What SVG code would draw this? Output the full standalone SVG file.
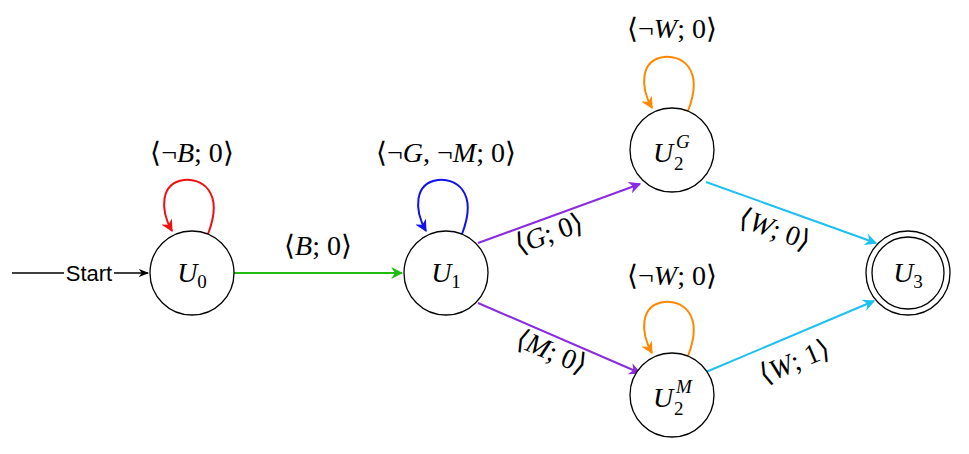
<svg xmlns="http://www.w3.org/2000/svg" width="969" height="454" viewBox="0 0 969 454">
<style>
.n{fill:#fff;stroke:#000;stroke-width:1.3}
.m{font-family:"Liberation Serif",serif;font-size:28px;fill:#000}
.sm{font-family:"Liberation Serif",serif;font-size:19px;fill:#000}
.i{font-style:italic}
.s{font-family:"Liberation Sans",sans-serif;font-size:22px}
.e{fill:none;stroke-width:2}
</style>
<defs>
<marker id="ak" viewBox="0 0 10 10" refX="9" refY="5" markerWidth="8" markerHeight="8" orient="auto"><path d="M0,1 L10,5 L0,9 L3,5z" fill="#000"/></marker>
<marker id="ag" viewBox="0 0 10 10" refX="9" refY="5" markerWidth="6" markerHeight="6" orient="auto"><path d="M0,0 L10,5 L0,10 L3,5z" fill="#22bb11"/></marker>
<marker id="ap" viewBox="0 0 10 10" refX="9" refY="5" markerWidth="6" markerHeight="6" orient="auto"><path d="M0,0 L10,5 L0,10 L3,5z" fill="#8a2be2"/></marker>
<marker id="ac" viewBox="0 0 10 10" refX="9" refY="5" markerWidth="6" markerHeight="6" orient="auto"><path d="M0,0 L10,5 L0,10 L3,5z" fill="#1ec0f0"/></marker>
<marker id="ar" viewBox="0 0 10 10" refX="9" refY="5" markerWidth="6" markerHeight="6" orient="auto"><path d="M0,0 L10,5 L0,10 L3,5z" fill="#ee1111"/></marker>
<marker id="ab" viewBox="0 0 10 10" refX="9" refY="5" markerWidth="6" markerHeight="6" orient="auto"><path d="M0,0 L10,5 L0,10 L3,5z" fill="#1111ee"/></marker>
<marker id="ao" viewBox="0 0 10 10" refX="9" refY="5" markerWidth="6" markerHeight="6" orient="auto"><path d="M0,0 L10,5 L0,10 L3,5z" fill="#ff8800"/></marker>
</defs>
<g id="connectors">
<path d="M12,273 H64" stroke="#000" stroke-width="1.3"/>
<path d="M114,273 H148" stroke="#000" stroke-width="1.3" marker-end="url(#ak)"/>
<text class="s" x="89" y="281" text-anchor="middle">Start</text>
<path class="e" stroke="#22bb11" d="M234,273 H402" marker-end="url(#ag)"/>
<path class="e" stroke="#8a2be2" d="M478,243 L640,184" marker-end="url(#ap)"/>
<path class="e" stroke="#8a2be2" d="M478,303 L640,373" marker-end="url(#ap)"/>
<path class="e" stroke="#1ec0f0" d="M706,182 L876,243" marker-end="url(#ac)"/>
<path class="e" stroke="#1ec0f0" d="M706,372 L874,301" marker-end="url(#ac)"/>
<path class="e" stroke="#ee1111" d="M208,234 C225,190 200,178 184,180 C160,183 160,210 172,231" marker-end="url(#ar)"/>
<path class="e" stroke="#1111ee" d="M462,234 C479,190 454,178 438,180 C414,183 414,210 426,231" marker-end="url(#ab)"/>
<path class="e" stroke="#ff8800" d="M688,111 C705,67 680,55 664,57 C640,60 640,87 652,108" marker-end="url(#ao)"/>
<path class="e" stroke="#ff8800" d="M688,356 C705,312 680,300 664,302 C640,305 640,332 652,353" marker-end="url(#ao)"/>
<text class="m" x="192" y="162" text-anchor="middle">⟨¬<tspan class="i">B</tspan>; 0⟩</text>
<text class="m" x="446" y="162" text-anchor="middle">⟨¬<tspan class="i">G</tspan>, ¬<tspan class="i">M</tspan>; 0⟩</text>
<text class="m" x="672" y="38" text-anchor="middle">⟨¬<tspan class="i">W</tspan>; 0⟩</text>
<text class="m" x="672" y="285" text-anchor="middle">⟨¬<tspan class="i">W</tspan>; 0⟩</text>
<text class="m" x="318" y="255" text-anchor="middle">⟨<tspan class="i">B</tspan>; 0⟩</text>
<text class="m" transform="translate(552,242) rotate(-20)" text-anchor="middle">⟨<tspan class="i">G</tspan>; 0⟩</text>
<text class="m" transform="translate(548,360) rotate(23)" text-anchor="middle">⟨<tspan class="i">M</tspan>; 0⟩</text>
<text class="m" transform="translate(772,238) rotate(20)" text-anchor="middle">⟨<tspan class="i">W</tspan>; 0⟩</text>
<text class="m" transform="translate(798,370) rotate(-23)" text-anchor="middle">⟨<tspan class="i">W</tspan>; 1⟩</text>
</g>
<g id="U0"><circle class="n" cx="192" cy="273" r="42"/><text class="m" x="192" y="282" text-anchor="middle"><tspan class="i">U</tspan><tspan font-size="19" dy="6">0</tspan></text></g>
<g id="U1"><circle class="n" cx="446" cy="273" r="42"/><text class="m" x="446" y="282" text-anchor="middle"><tspan class="i">U</tspan><tspan font-size="19" dy="6">1</tspan></text></g>
<g id="U2G"><circle class="n" cx="672" cy="150" r="42"/><text class="m i" x="663" y="162" text-anchor="middle">U</text><text class="sm" x="674" y="170">2</text><text class="sm i" x="676" y="148">G</text></g>
<g id="U2M"><circle class="n" cx="672" cy="395" r="42"/><text class="m i" x="663" y="407" text-anchor="middle">U</text><text class="sm" x="674" y="415">2</text><text class="sm i" x="676" y="393">M</text></g>
<g id="U3"><circle class="n" cx="908" cy="273" r="42"/><circle class="n" cx="908" cy="273" r="36"/><text class="m" x="908" y="282" text-anchor="middle"><tspan class="i">U</tspan><tspan font-size="19" dy="6">3</tspan></text></g>
</svg>
